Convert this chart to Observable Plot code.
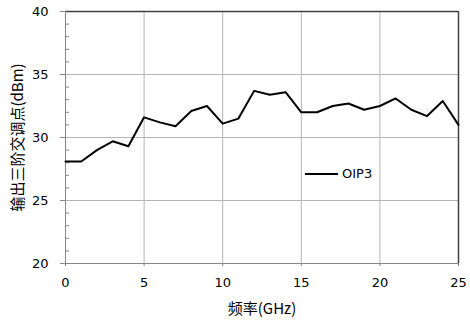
<!DOCTYPE html>
<html><head><meta charset="utf-8">
<script src="https://cdn.jsdelivr.net/npm/d3@7"></script>
<script src="https://cdn.jsdelivr.net/npm/@observablehq/plot@0.6"></script>
<style>
body{margin:0;background:#fff}
#c{position:relative;width:470px;height:322px}
#legend{position:absolute;left:305px;top:166px;display:flex;align-items:center;font:13px "DejaVu Sans",sans-serif;color:#000}
#legend span.l{display:inline-block;width:33px;height:0;border-top:2px solid #000;margin-right:4px}
</style>
</head><body>
<div id="c"><div id="legend"><span class="l"></span><span>OIP3</span></div></div>
<script>
const freqGHz = [0,1,2,3,4,5,6,7,8,9,10,11,12,13,14,15,16,17,18,19,20,21,22,23,24,25];
const oip3 = [28.1,28.1,29.0,29.7,29.3,31.6,31.2,30.9,32.1,32.5,31.1,31.5,33.7,33.4,33.6,32.0,32.0,32.5,32.7,32.2,32.5,33.1,32.2,31.7,32.9,31.0];
const xTicks = [0,5,10,15,20,25];
const yTicks = [20,25,30,35,40];
const yMinorTicks = [21,22,23,24,26,27,28,29,31,32,33,34,36,37,38,39];
const seriesName = "OIP3";
const xLabel = "频率(GHz)";
const yLabel = "输出三阶交调点(dBm)";

const data = freqGHz.map((f,i)=>({f, v:oip3[i]}));
const gridColor = "#b4b4b4";
const axisColor = "#868686";
const borderColor = "#404040";

const chart = Plot.plot({
  width: 470, height: 322,
  marginLeft: 65, marginRight: 12, marginTop: 11, marginBottom: 59,
  style: {fontFamily: "'DejaVu Sans', sans-serif", fontSize: "13px", color: "#000", background: "#fff"},
  x: {domain: [0,25]},
  y: {domain: [20,40]},
  marks: [
    Plot.gridX(xTicks, {stroke: gridColor, strokeOpacity: 1, strokeWidth: 1}),
    Plot.gridY(yTicks, {stroke: gridColor, strokeOpacity: 1, strokeWidth: 1}),
    Plot.ruleY([40], {stroke: borderColor, strokeWidth: 1.5}),
    Plot.ruleX([25], {stroke: borderColor, strokeWidth: 1.5}),
    Plot.ruleX([0], {stroke: axisColor}),
    Plot.ruleY([20], {stroke: axisColor}),
    Plot.axisY(yMinorTicks, {tickSize: -4, text: null, stroke: axisColor, label: null}),
    Plot.axisY(yTicks, {tickSize: 5, tickPadding: 12, stroke: axisColor, label: null, fill: "#000"}),
    Plot.axisX(xTicks, {tickSize: 3, tickPadding: 11, stroke: axisColor, label: null, fill: "#000"}),
    Plot.line(data, {x: "f", y: "v", stroke: "#000", strokeWidth: 2}),
    Plot.text([xLabel], {frameAnchor: "bottom", dy: 50, fontSize: 15, fontFamily: "'Noto Sans CJK SC', sans-serif", fill: "#000"}),
    Plot.text([yLabel], {frameAnchor: "left", textAnchor: "middle", dx: -47, rotate: -90, fontSize: 15, fontFamily: "'Noto Sans CJK SC', sans-serif", fill: "#000"})
  ]
});
document.getElementById("c").prepend(chart);
</script>
</body></html>
